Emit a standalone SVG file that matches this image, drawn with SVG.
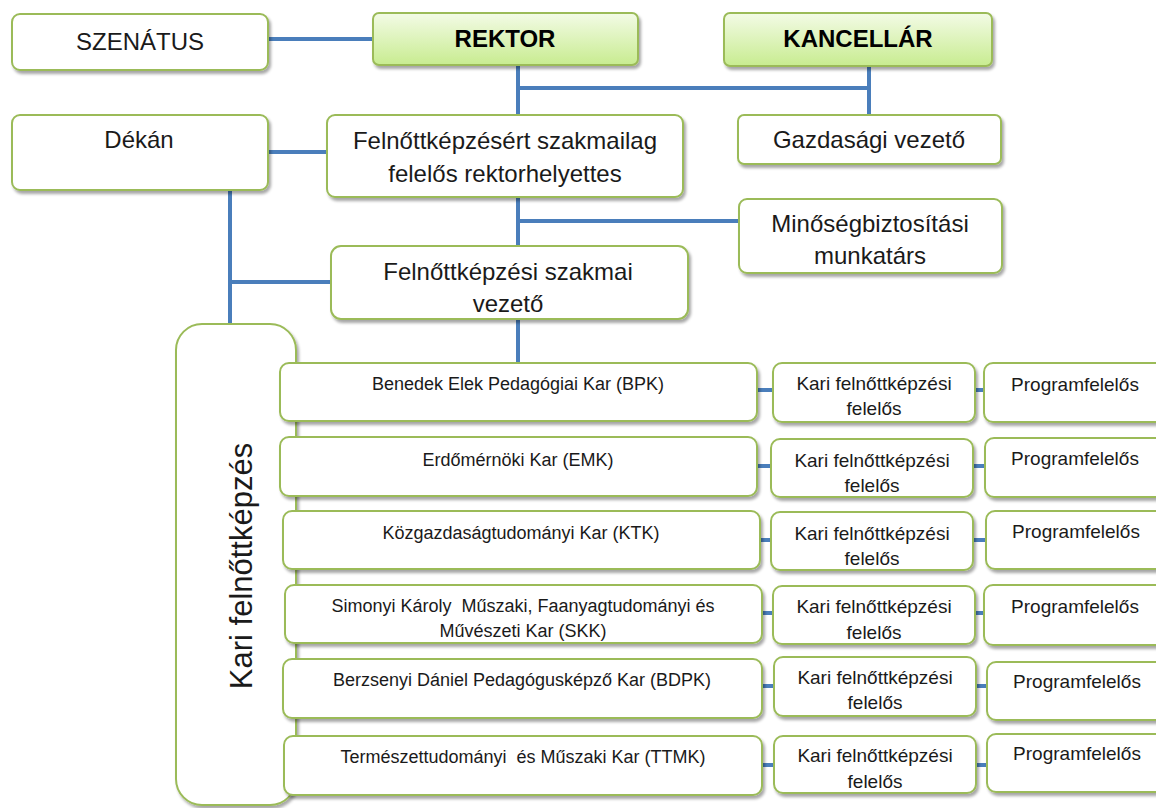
<svg xmlns="http://www.w3.org/2000/svg" width="1156" height="808" viewBox="0 0 1156 808">
  <defs>
    <linearGradient id="g" x1="0" y1="0" x2="0" y2="1">
      <stop offset="0" stop-color="#f3fbe6"/>
      <stop offset="1" stop-color="#c8ec90"/>
    </linearGradient>
    <filter id="sh" x="-10%" y="-20%" width="120%" height="150%">
      <feGaussianBlur in="SourceAlpha" stdDeviation="1.6"/>
      <feOffset dx="1.5" dy="2.5" result="b"/>
      <feComponentTransfer><feFuncA type="linear" slope="0.35"/></feComponentTransfer>
      <feMerge><feMergeNode/><feMergeNode in="SourceGraphic"/></feMerge>
    </filter>
  </defs>
  <style>
    .box { fill: #ffffff; stroke: #9bbb59; stroke-width: 2; filter: url(#sh); }
    .top { fill: url(#g); stroke: #9bbb59; stroke-width: 2; filter: url(#sh); }
    .c { stroke: #4a7ebb; stroke-width: 4; fill: none; }
    text { font-family: "Liberation Sans", Arial, sans-serif; fill: #1a1a1a; text-anchor: middle; }
    .t24 { font-size: 24px; }
    .b24 { font-size: 24px; font-weight: bold; fill: #000; }
    .t18 { font-size: 18px; }
    .t19 { font-size: 19px; }
  </style>
  <rect width="1156" height="808" fill="#ffffff"/>

  <g id="connectors">
    <path class="c" d="M268 39 H373"/>
    <path class="c" d="M518 65 V115"/>
    <path class="c" d="M516 88 H871"/>
    <path class="c" d="M869 66 V115"/>
    <path class="c" d="M268 152 H327"/>
    <path class="c" d="M230 190 V324"/>
    <path class="c" d="M228 282 H331"/>
    <path class="c" d="M518 197 V246"/>
    <path class="c" d="M518 221 H739"/>
    <path class="c" d="M518 319 V363"/>
    <path class="c" d="M757 390 H773"/>
    <path class="c" d="M975 390 H984"/>
    <path class="c" d="M757 466 H771"/>
    <path class="c" d="M973 466 H985"/>
    <path class="c" d="M760 540 H771"/>
    <path class="c" d="M973 540 H986"/>
    <path class="c" d="M762 613 H773"/>
    <path class="c" d="M975 613 H984"/>
    <path class="c" d="M762 686 H774"/>
    <path class="c" d="M976 686 H987"/>
    <path class="c" d="M762 765 H774"/>
    <path class="c" d="M976 765 H987"/>
  </g>

  <g id="szenatus">
    <rect class="box" x="12" y="14" width="256" height="56" rx="8"/>
    <text class="t24" x="140" y="50">SZENÁTUS</text>
  </g>
  <g id="rektor">
    <rect class="top" x="373" y="13" width="265" height="52" rx="6"/>
    <text class="b24" x="505" y="47">REKTOR</text>
  </g>
  <g id="kancellar">
    <rect class="top" x="724" y="13" width="268" height="53" rx="6"/>
    <text class="b24" x="858" y="47">KANCELLÁR</text>
  </g>
  <g id="gazdasagi">
    <rect class="box" x="738" y="115" width="263" height="49" rx="6"/>
    <text class="t24" x="869" y="148">Gazdasági vezető</text>
  </g>
  <g id="dekan">
    <rect class="box" x="12" y="115" width="256" height="75" rx="8"/>
    <text class="t24" x="139" y="148">Dékán</text>
  </g>
  <g id="rektorhelyettes">
    <rect class="box" x="327" y="115" width="356" height="82" rx="8"/>
    <text class="t24" x="505" y="149">Felnőttképzésért szakmailag</text>
    <text class="t24" x="505" y="182">felelős rektorhelyettes</text>
  </g>
  <g id="minoseg">
    <rect class="box" x="739" y="199" width="263" height="74" rx="8"/>
    <text class="t24" x="870" y="232">Minőségbiztosítási</text>
    <text class="t24" x="870" y="264">munkatárs</text>
  </g>
  <g id="szakmai-vezeto">
    <rect class="box" x="331" y="246" width="357" height="73" rx="10"/>
    <text class="t24" x="508" y="280">Felnőttképzési szakmai</text>
    <text class="t24" x="508" y="312">vezető</text>
  </g>

  <g id="kari-felnottkepzes">
    <rect class="box" x="176" y="324" width="120" height="481" rx="26"/>
    <text transform="translate(252,566) rotate(-90)" style="font-size:31px" x="0" y="0">Kari felnőttképzés</text>
  </g>

  <g id="bpk">
    <rect class="box" x="280" y="363" width="477" height="58" rx="9"/>
    <text class="t18" x="518" y="390">Benedek Elek Pedagógiai Kar (BPK)</text>
  </g>
  <g id="emk">
    <rect class="box" x="280" y="437" width="477" height="59" rx="9"/>
    <text class="t18" x="518" y="466">Erdőmérnöki Kar (EMK)</text>
  </g>
  <g id="ktk">
    <rect class="box" x="283" y="511" width="477" height="58" rx="9"/>
    <text class="t18" x="521" y="539">Közgazdaságtudományi Kar (KTK)</text>
  </g>
  <g id="skk">
    <rect class="box" x="285" y="585" width="477" height="58" rx="9"/>
    <text class="t18" x="523" y="612" xml:space="preserve">Simonyi Károly  Műszaki, Faanyagtudományi és</text>
    <text class="t18" x="523" y="637">Művészeti Kar (SKK)</text>
  </g>
  <g id="bdpk">
    <rect class="box" x="283" y="659" width="479" height="59" rx="9"/>
    <text class="t18" x="522" y="686">Berzsenyi Dániel Pedagógusképző Kar (BDPK)</text>
  </g>
  <g id="ttmk">
    <rect class="box" x="284" y="736" width="478" height="59" rx="9"/>
    <text class="t18" x="523" y="763" xml:space="preserve">Természettudományi  és Műszaki Kar (TTMK)</text>
  </g>

  <g id="kari-felelos-1">
    <rect class="box" x="773" y="363" width="202" height="59" rx="9"/>
    <text class="t19" x="874" y="390">Kari felnőttképzési</text>
    <text class="t19" x="874" y="415">felelős</text>
  </g>
  <g id="kari-felelos-2">
    <rect class="box" x="771" y="439" width="202" height="58" rx="9"/>
    <text class="t19" x="872" y="467">Kari felnőttképzési</text>
    <text class="t19" x="872" y="492">felelős</text>
  </g>
  <g id="kari-felelos-3">
    <rect class="box" x="771" y="512" width="202" height="58" rx="9"/>
    <text class="t19" x="872" y="540">Kari felnőttképzési</text>
    <text class="t19" x="872" y="565">felelős</text>
  </g>
  <g id="kari-felelos-4">
    <rect class="box" x="773" y="586" width="202" height="58" rx="9"/>
    <text class="t19" x="874" y="613">Kari felnőttképzési</text>
    <text class="t19" x="874" y="639">felelős</text>
  </g>
  <g id="kari-felelos-5">
    <rect class="box" x="774" y="657" width="202" height="59" rx="9"/>
    <text class="t19" x="875" y="684">Kari felnőttképzési</text>
    <text class="t19" x="875" y="709">felelős</text>
  </g>
  <g id="kari-felelos-6">
    <rect class="box" x="774" y="736" width="202" height="57" rx="9"/>
    <text class="t19" x="875" y="762">Kari felnőttképzési</text>
    <text class="t19" x="875" y="788">felelős</text>
  </g>

  <g id="program-1">
    <rect class="box" x="984" y="363" width="190" height="59" rx="9"/>
    <text class="t19" x="1075" y="391">Programfelelős</text>
  </g>
  <g id="program-2">
    <rect class="box" x="985" y="438" width="190" height="59" rx="9"/>
    <text class="t19" x="1075" y="465">Programfelelős</text>
  </g>
  <g id="program-3">
    <rect class="box" x="986" y="511" width="190" height="58" rx="9"/>
    <text class="t19" x="1076" y="538">Programfelelős</text>
  </g>
  <g id="program-4">
    <rect class="box" x="984" y="585" width="190" height="60" rx="9"/>
    <text class="t19" x="1075" y="613">Programfelelős</text>
  </g>
  <g id="program-5">
    <rect class="box" x="987" y="662" width="190" height="58" rx="9"/>
    <text class="t19" x="1077" y="688">Programfelelős</text>
  </g>
  <g id="program-6">
    <rect class="box" x="987" y="734" width="190" height="58" rx="9"/>
    <text class="t19" x="1077" y="760">Programfelelős</text>
  </g>
</svg>
